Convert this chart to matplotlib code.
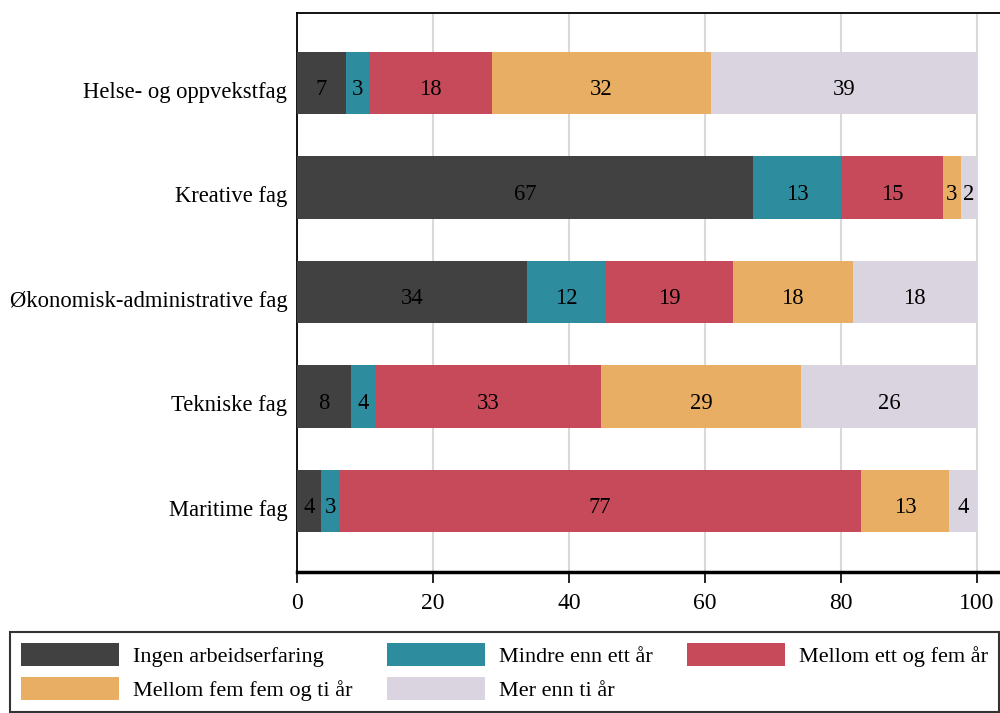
import matplotlib
matplotlib.use("Agg")
from matplotlib import pyplot as plt
from matplotlib.transforms import ScaledTranslation

# Data (percent)
categories = ["Helse- og oppvekstfag", "Kreative fag", "Økonomisk-administrative fag",
              "Tekniske fag", "Maritime fag"]
series_names = ["Ingen arbeidserfaring", "Mindre enn ett år", "Mellom ett og fem år",
                "Mellom fem fem og ti år", "Mer enn ti år"]
ingen = [7.2, 67.1, 33.8, 7.9, 3.6]
mindre = [3.4, 12.9, 11.6, 3.7, 2.6]
ett_fem = [18.1, 15.0, 18.7, 33.1, 76.7]
fem_ti = [32.2, 2.6, 17.6, 29.4, 13.0]
over_ti = [39.1, 2.4, 18.3, 25.9, 4.1]
colors = ["#414141", "#2e8c9f", "#c74a5a", "#e8ae63", "#dad3e0"]

plt.rcParams['font.family'] = ['Liberation Serif', 'DejaVu Serif']
plt.rcParams['font.size'] = 16

fig = plt.figure(figsize=(10, 7.13), dpi=100)
ax = fig.add_axes([0.297, 0.1978, 0.714, 0.784])

ypos = list(range(len(categories)))[::-1]
left = [0.0] * len(categories)
containers = []
for name, vals, col in zip(series_names, [ingen, mindre, ett_fem, fem_ti, over_ti], colors):
    bars = ax.barh(ypos, vals, left=left, height=0.6, color=col, label=name, zorder=3)
    containers.append(bars)
    # value labels, a little below the bar centre like the original
    for y, l, v in zip(ypos, left, vals):
        ax.annotate(f"{v:.0f}", (l + v / 2, y), xytext=(0, -9), textcoords='offset points',
                    ha='center', va='baseline', fontsize=16.3, color='black', zorder=4)
    left = [a + b for a, b in zip(left, vals)]

ax.set_yticks(ypos)
ax.set_yticklabels(categories, fontsize=16.3)
ax.set_ylim(-0.68, 4.67)
ax.set_xlim(0, 105)
ax.set_xticks([0, 20, 40, 60, 80, 100])
ax.tick_params(axis='y', length=0, pad=7)
ax.tick_params(axis='x', length=8, width=1.2, pad=7, labelsize=17)

# push category labels down a few pixels
shift = ScaledTranslation(0, -5 / 72, fig.dpi_scale_trans)
for lab in ax.get_yticklabels():
    lab.set_transform(lab.get_transform() + shift)

ax.grid(axis='x', color='#d9d9d9', linewidth=1.5, zorder=0)
ax.set_axisbelow(True)
ax.spines['right'].set_visible(False)
ax.spines['left'].set_linewidth(1.3)
ax.spines['top'].set_linewidth(1.3)
ax.spines['bottom'].set_linewidth(2.5)

# legend, filled row by row
order = [0, 3, 1, 4, 2]
handles = [containers[i] for i in order]
labels = [series_names[i] for i in order]
leg = fig.legend(handles, labels, loc='upper left', bbox_to_anchor=(0.010, 1 - 632 / 713),
                 ncol=3, fontsize=16, frameon=True, fancybox=False, edgecolor='black',
                 handlelength=4.4, handleheight=1.23, handletextpad=0.64,
                 columnspacing=1.55, labelspacing=0.45, borderpad=0.5, borderaxespad=0)
leg.get_frame().set_linewidth(1.5)

fig.savefig("out.png", dpi=100)
